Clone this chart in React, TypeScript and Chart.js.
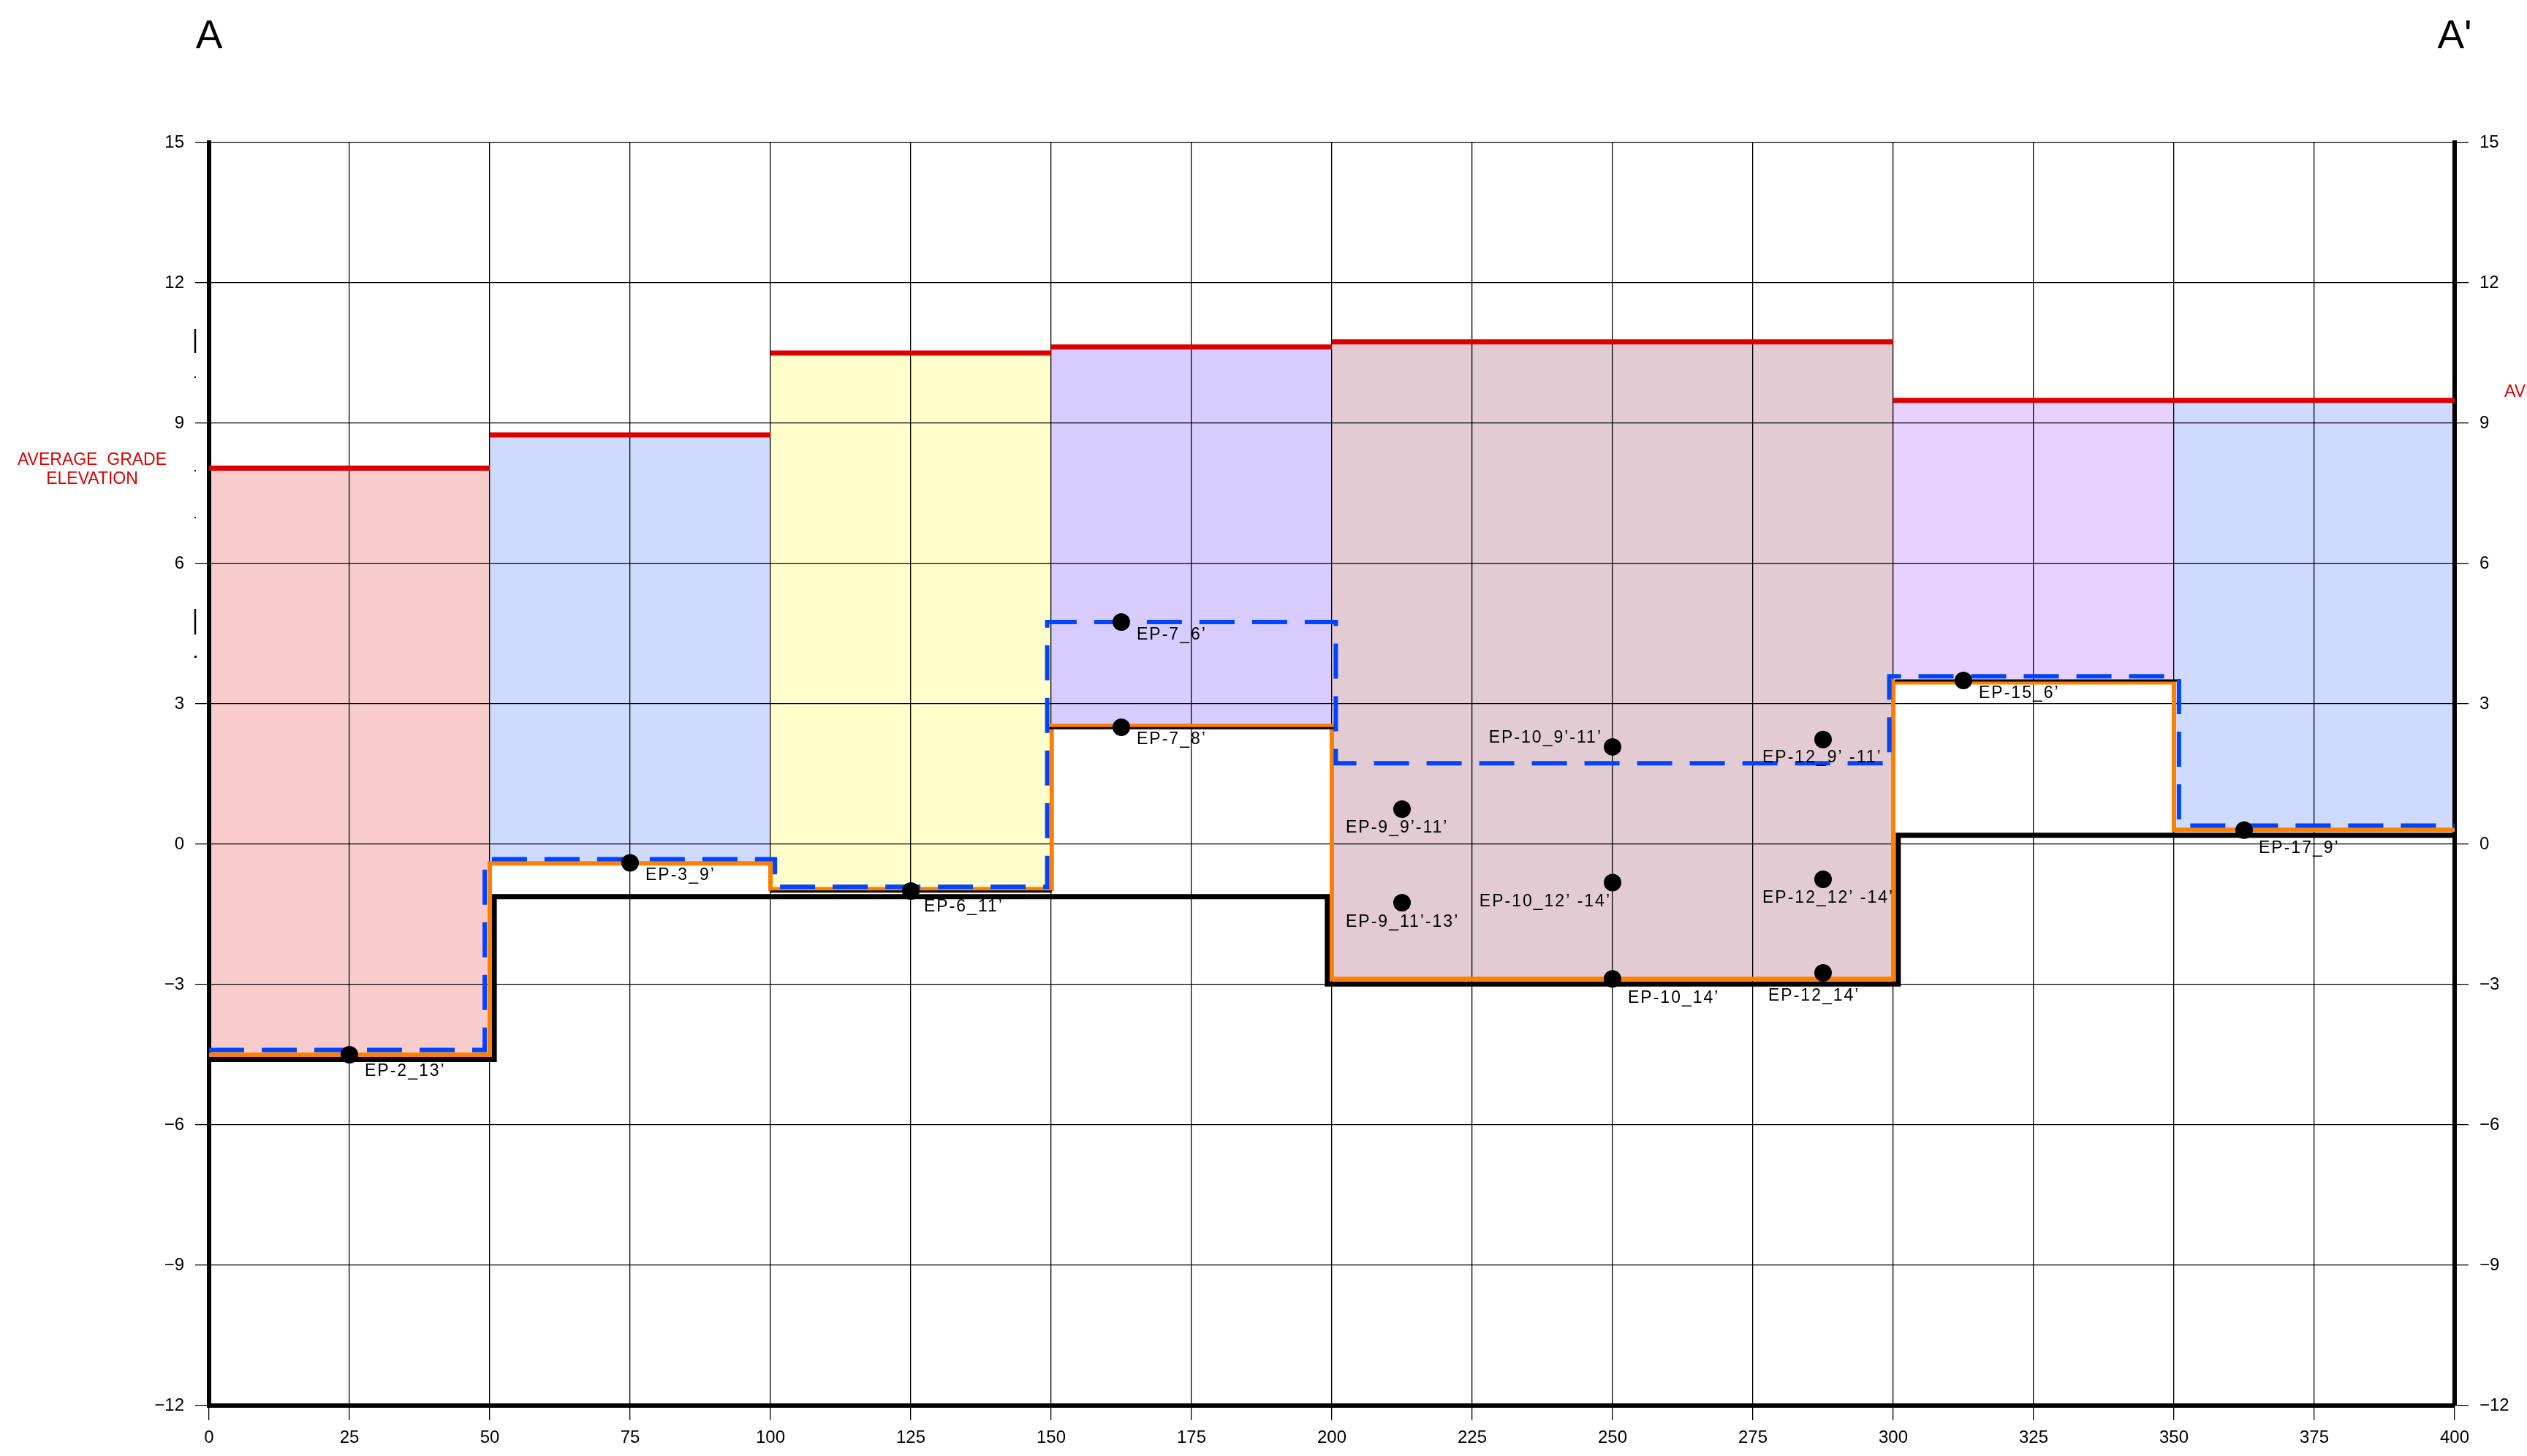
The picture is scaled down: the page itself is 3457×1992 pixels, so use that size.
import { useEffect, useRef } from "react";
import { Chart, registerables } from "chart.js";

Chart.register(...registerables);

// ---- data ----
const segStart = [0, 50, 100, 150, 200, 300, 350];
const segEnd = [50, 100, 150, 200, 300, 350, 400];
const avgGrade = [8.04, 8.75, 10.5, 10.63, 10.74, 9.49, 9.49];
const segFill = ["#f8cccc", "#cfdaff", "#ffffcc", "#d8ccff", "#e2cbd2", "#e8d0ff", "#cfdaff"];

const orangeEdges = [0, 50, 100, 150.1, 200, 300, 350, 400];
const orangeLevels = [-4.5, -0.41, -0.96, 2.53, -2.88, 3.46, 0.31];

const blueEdges = [0, 49.1, 100.8, 149.3, 200.7, 299.3, 350.9, 400];
const blueLevels = [-4.4, -0.32, -0.91, 4.75, 1.73, 3.59, 0.4];

const blackEdges = [0, 50.8, 199.2, 300.9, 400];
const blackLevels = [-4.6, -1.12, -2.99, 0.19];

const thinStart = [100, 149.2, 300.3];
const thinEnd = [150.1, 200.9, 350.6];
const thinLevels = [-1.01, 2.48, 3.5];

const pointX = [25, 75, 125, 162.5, 162.5, 212.5, 212.5, 250, 250, 250, 287.5, 287.5, 287.5, 312.5, 362.5];
const pointY = [-4.5, -0.4, -1.0, 4.75, 2.5, 0.75, -1.25, 2.08, -0.82, -2.88, 2.24, -0.75, -2.75, 3.5, 0.3];
const pointLabels = [
  "EP-2_13’",
  "EP-3_9’",
  "EP-6_11’",
  "EP-7_6’",
  "EP-7_8’",
  "EP-9_9’-11’",
  "EP-9_11’-13’",
  "EP-10_9’-11’",
  "EP-10_12’ -14’",
  "EP-10_14’",
  "EP-12_9’ -11’",
  "EP-12_12’ -14’",
  "EP-12_14’",
  "EP-15_6’",
  "EP-17_9’",
];

const xTickValues = [0, 25, 50, 75, 100, 125, 150, 175, 200, 225, 250, 275, 300, 325, 350, 375, 400];
const yTickValues = [-12, -9, -6, -3, 0, 3, 6, 9, 12, 15];

// ---- presentation (label placement relative to its point, in px) ----
const labelDx = [21, 21, 18, 21, 21, -77, -77, -14, -2, 21, -83, -83, -75, 21, 20];
const labelDy = [23, 17, 22, 18, 17, 26, 27, -12, 26, 26, 25, 26, 32, 18, 25];
const labelAlign: CanvasTextAlign[] = [
  "left", "left", "left", "left", "left", "left", "left", "right", "right", "left", "left", "left", "left", "left", "left",
];

const W = 3457;
const H = 1992;
const LEFT = 286;
const RIGHT = 3358;
const TOP = 195;
const BOTTOM = 1923;

function steps(edges: number[], levels: number[]) {
  const pts: { x: number; y: number | null }[] = [];
  for (let i = 0; i < levels.length; i++) {
    pts.push({ x: edges[i], y: levels[i] });
    pts.push({ x: edges[i + 1], y: levels[i] });
  }
  return pts;
}

function pieces(starts: number[], ends: number[], levels: number[]) {
  const pts: { x: number; y: number | null }[] = [];
  for (let i = 0; i < levels.length; i++) {
    if (i > 0) pts.push({ x: starts[i], y: null });
    pts.push({ x: starts[i], y: levels[i] });
    pts.push({ x: ends[i], y: levels[i] });
  }
  return pts;
}

const fmt = (v: number) => (v < 0 ? "\u2212" + Math.abs(v) : String(v));

export default function App() {
  const ref = useRef<HTMLCanvasElement | null>(null);

  useEffect(() => {
    if (!ref.current) return;

    const segDatasets = avgGrade.map((g, i) => ({
      type: "line" as const,
      label: "grade" + i,
      data: [
        { x: segStart[i], y: g },
        { x: segEnd[i], y: g },
      ],
      borderColor: "#dd0000",
      borderWidth: 7,
      backgroundColor: segFill[i],
      fill: { value: orangeLevels[i] },
      pointRadius: 0,
      order: 5,
    }));

    const labelPlugin = {
      id: "labels",
      afterDatasetsDraw(chart: any) {
        const ctx = chart.ctx as CanvasRenderingContext2D;
        const idx = chart.data.datasets.findIndex((d: any) => d.label === "points");
        const meta = chart.getDatasetMeta(idx);
        ctx.save();
        ctx.fillStyle = "#000";
        ctx.font = "23px 'Liberation Sans', Arial, sans-serif";
        (ctx as any).letterSpacing = "2px";
        ctx.textBaseline = "middle";
        meta.data.forEach((el: any, i: number) => {
          ctx.textAlign = labelAlign[i];
          ctx.fillText(pointLabels[i], el.x + labelDx[i], el.y + labelDy[i]);
        });
        ctx.restore();
      },
      afterDraw(chart: any) {
        const ctx = chart.ctx as CanvasRenderingContext2D;
        ctx.save();
        ctx.fillStyle = "#000";
        ctx.font = "55px 'Liberation Sans', Arial, sans-serif";
        ctx.textAlign = "center";
        ctx.textBaseline = "alphabetic";
        ctx.fillText("A", LEFT, 66);
        ctx.fillText("A'", RIGHT, 66);
        ctx.fillStyle = "#dd0000";
        ctx.font = "23px 'Liberation Sans', Arial, sans-serif";
        ctx.fillText("AVERAGE  GRADE", 126, 636);
        ctx.fillText("ELEVATION", 126, 662);
        const w1 = ctx.measureText("AVERAGE  GRADE").width;
        const cx = 3426 + w1 / 2;
        ctx.fillText("AVERAGE  GRADE", cx, 543);
        ctx.fillText("ELEVATION", cx, 569);
        ctx.strokeStyle = "#000";
        ctx.fillStyle = "#000";
        ctx.lineWidth = 2.5;
        ctx.beginPath();
        ctx.moveTo(267, 450);
        ctx.lineTo(267, 483);
        ctx.moveTo(267, 833);
        ctx.lineTo(267, 868);
        ctx.stroke();
        [515, 643, 707].forEach((y) => ctx.fillRect(266, y, 2, 2));
        ctx.fillRect(266, 897, 3, 3);
        ctx.restore();
      },
    };

    const tickFont = { family: "'Liberation Sans', Arial, sans-serif", size: 24 };

    const chart = new Chart(ref.current, {
      type: "line",
      data: {
        datasets: [
          {
            label: "points",
            data: pointX.map((x, i) => ({ x, y: pointY[i] })),
            showLine: false,
            pointRadius: 12,
            pointBackgroundColor: "#000",
            pointBorderWidth: 0,
            borderColor: "#000",
            order: 0,
          },
          {
            label: "blue",
            data: steps(blueEdges, blueLevels),
            borderColor: "#0044ff",
            borderWidth: 6,
            borderDash: [48, 24],
            pointRadius: 0,
            fill: false,
            order: 1,
          },
          {
            label: "thin",
            data: pieces(thinStart, thinEnd, thinLevels),
            borderColor: "#000",
            borderWidth: 3,
            pointRadius: 0,
            spanGaps: false,
            fill: false,
            order: 2,
          },
          {
            label: "orange",
            data: steps(orangeEdges, orangeLevels),
            borderColor: "#ff8000",
            borderWidth: 6,
            pointRadius: 0,
            fill: false,
            order: 3,
          },
          {
            label: "black",
            data: steps(blackEdges, blackLevels),
            borderColor: "#000",
            borderWidth: 7,
            pointRadius: 0,
            fill: false,
            order: 4,
          },
          ...segDatasets,
        ] as any,
      },
      options: {
        animation: false,
        responsive: false,
        devicePixelRatio: 1,
        layout: { padding: { top: TOP, left: 0, right: 0, bottom: 0 } },
        plugins: {
          legend: { display: false },
          tooltip: { enabled: false },
          filler: { drawTime: "beforeDraw" },
        } as any,
        elements: { line: { tension: 0, borderCapStyle: "butt", borderJoinStyle: "miter" } },
        scales: {
          x: {
            type: "linear",
            min: 0,
            max: 400,
            afterBuildTicks: (s: any) => {
              s.ticks = xTickValues.map((v) => ({ value: v }));
            },
            afterFit: (s: any) => {
              s.height = H - BOTTOM;
            },
            grid: { color: "#000", lineWidth: 1.3, tickLength: 20, tickColor: "#000", tickWidth: 1.3 },
            border: { display: true, color: "#000", width: 6 },
            ticks: {
              autoSkip: false,
              maxRotation: 0,
              padding: 10,
              color: "#000",
              font: tickFont,
              callback: (v: any) => fmt(Number(v)),
            },
          },
          y: {
            type: "linear",
            position: "left",
            min: -12,
            max: 15,
            afterBuildTicks: (s: any) => {
              s.ticks = yTickValues.map((v) => ({ value: v }));
            },
            afterFit: (s: any) => {
              s.width = LEFT;
            },
            grid: { color: "#000", lineWidth: 1.3, tickLength: 19, tickColor: "#000", tickWidth: 1.3 },
            border: { display: true, color: "#000", width: 6 },
            ticks: { padding: 15, color: "#000", font: tickFont, callback: (v: any) => fmt(Number(v)) },
          },
          y2: {
            type: "linear",
            position: "right",
            min: -12,
            max: 15,
            afterBuildTicks: (s: any) => {
              s.ticks = yTickValues.map((v) => ({ value: v }));
            },
            afterFit: (s: any) => {
              s.width = W - RIGHT;
            },
            grid: { drawOnChartArea: false, color: "#000", lineWidth: 1.3, tickLength: 19, tickColor: "#000", tickWidth: 1.3 },
            border: { display: true, color: "#000", width: 6 },
            ticks: { padding: 15, color: "#000", font: tickFont, callback: (v: any) => fmt(Number(v)) },
          },
        },
      } as any,
      plugins: [labelPlugin],
    });

    return () => chart.destroy();
  }, []);

  return (
    <div style={{ position: "absolute", left: 0, top: 0, width: W, height: H, background: "#fff" }}>
      <canvas ref={ref} width={W} height={H} style={{ display: "block", width: W, height: H }} />
    </div>
  );
}
